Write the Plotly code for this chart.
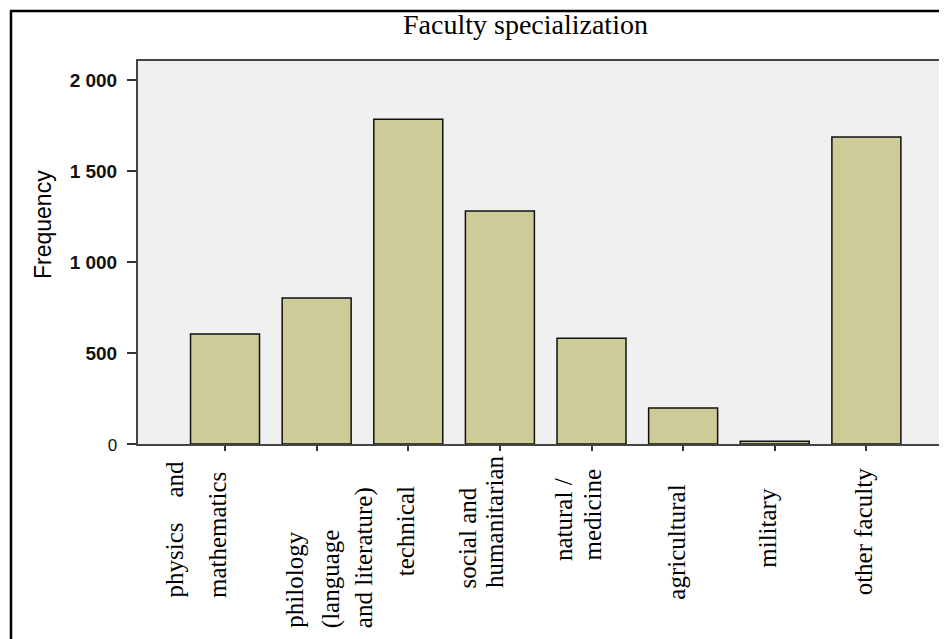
import plotly.graph_objects as go

# ---- data ----
categories = ["physics and mathematics", "philology (language and literature)", "technical",
              "social and humanitarian", "natural / medicine", "agricultural", "military",
              "other faculty"]
frequencies = [604, 802, 1784, 1280, 581, 198, 15, 1687]
tick_values = [0, 500, 1000, 1500, 2000]
tick_text = ["<span style='font-weight:normal;font-size:17px'>0</span>", "500", "1 000", "1 500", "2 000"]
label_lines = [["physics\u00a0\u00a0\u00a0\u00a0and", "mathematics"],
               ["philology", "(language", "and literature)"],
               ["technical"],
               ["social and", "humanitarian"],
               ["natural /", "medicine"],
               ["agricultural"],
               ["military"],
               ["other faculty"]]
title_text = "Faculty specialization"
y_title = "Frequency"

# ---- layout (pixels, in page coordinates; page body has an 8px margin) ----
OFF = 8
W, H = 947 - OFF, 639 - OFF
PL, PT, PB = 138, 61, 444          # plot area left, top, bottom (page px)
PR = 947
pw, ph = PR - PL, PB - PT
line_shift_px = [[-51, -8], [-23, 14, 47], [-3], [-32, -6], [-28, 0], [-7], [-8], [-3]]
label_bottom_px = [600, 630, 578, 590, 563, 602, 570, 597]

def px_x(x):
    return (x - PL) / pw

def px_y(y):
    return (PB - y) / ph

fig = go.Figure(go.Bar(
    x=categories, y=frequencies,
    marker=dict(color="#cdcb98", line=dict(color="#111111", width=1.5)),
    hoverinfo="x+y",
))

annotations = []
for i, cat in enumerate(categories):
    for j, line in enumerate(label_lines[i]):
        annotations.append(dict(
            x=cat, xref="x", y=px_y(label_bottom_px[i]), yref="paper",
            text=line, showarrow=False, textangle=-90,
            xanchor="center", yanchor="bottom", xshift=line_shift_px[i][j],
            font=dict(family="Liberation Serif, Times New Roman, serif", size=25, color="#000"),
        ))
annotations.append(dict(
    x=px_x(525), y=px_y(25), xref="paper", yref="paper", text=title_text,
    showarrow=False, xanchor="center", yanchor="middle",
    font=dict(family="Liberation Serif, Times New Roman, serif", size=28, color="#000"),
))
annotations.append(dict(
    x=px_x(43), y=px_y(225), xref="paper", yref="paper", text=y_title,
    showarrow=False, textangle=-90, xanchor="center", yanchor="middle",
    font=dict(family="Liberation Sans, Arial, sans-serif", size=23, color="#000"),
))

fig.update_layout(
    width=W, height=H,
    margin=dict(l=PL - OFF, r=0, t=PT - OFF, b=H - (PB - OFF), pad=0),
    paper_bgcolor="white", plot_bgcolor="#f0f0f0",
    bargap=0.247, showlegend=False,
    annotations=annotations,
    shapes=[dict(type="rect", xref="paper", yref="paper",
                 x0=px_x(11), x1=px_x(1100), y0=px_y(800), y1=px_y(11),
                 line=dict(color="black", width=2.5), layer="above")],
    xaxis=dict(
        type="category", range=[-0.95, 7.88], showticklabels=False,
        ticks="outside", ticklen=5, tickcolor="#333", tickwidth=1.5,
        showline=True, linecolor="#444", linewidth=2, mirror=True,
        showgrid=False, zeroline=False,
    ),
    yaxis=dict(
        range=[0, 2104], tickvals=tick_values, ticktext=tick_text,
        ticks="outside", ticklen=9, tickcolor="#333", tickwidth=1.5,
        ticklabelstandoff=6,
        tickfont=dict(family="Liberation Sans, Arial, sans-serif", size=19, color="#111", weight="bold"),
        showline=True, linecolor="#444", linewidth=2, mirror=False,
        showgrid=False, zeroline=False,
    ),
)

fig.write_html("out.html")
